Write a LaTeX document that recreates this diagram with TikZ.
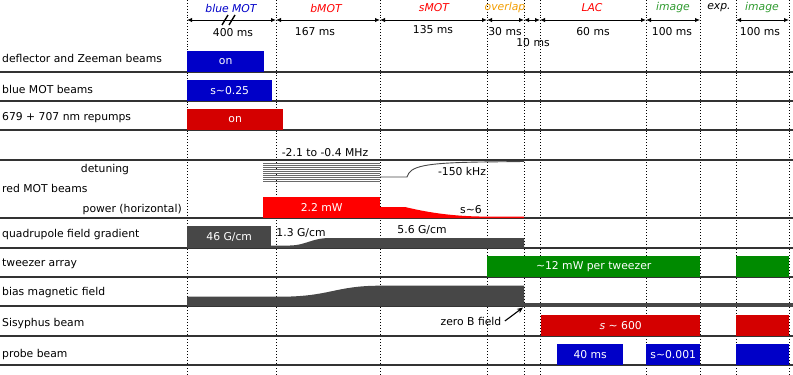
\documentclass[tikz,border=0pt]{standalone}
\usepackage{fontspec}
\setmainfont{DejaVu Sans}
\usepackage{tikz}
\usetikzlibrary{positioning, arrows.meta}
\definecolor{SeqBlue}{HTML}{0000C8}
\definecolor{SeqRed}{HTML}{D40000}
\definecolor{SeqBright}{HTML}{FF0000}
\definecolor{SeqGreen}{HTML}{008A00}
\definecolor{SeqGrey}{HTML}{474747}
\definecolor{SeqHatch}{HTML}{6A6A6A}
\definecolor{SeqOrange}{HTML}{F29D00}
\definecolor{SeqLine}{HTML}{333333}
\definecolor{SeqPhaseGreen}{HTML}{2E9A2E}

\begin{document}
\begin{tikzpicture}[x=1pt, y=-1pt, every node/.style={font=\fontsize{10.8}{12}\selectfont},
  bar/.style={anchor=south west, inner sep=0pt, minimum height=21pt, text=white},
  rowlabel/.style={anchor=west, inner sep=0pt},
  phase/.style={font=\fontsize{10.8}{12}\selectfont\itshape, inner sep=0pt},
  span/.style={{Latex[length=5pt,width=4.5pt]}-{Latex[length=5pt,width=4.5pt]}, line width=1pt},
  tick/.style={black, dotted, line width=0.9pt},
  rowline/.style={SeqLine, line width=1.3pt}]
  \useasboundingbox (0,0) rectangle (793,375);

  % time marks and row separators
  \foreach \x in {187,276,380,487,524,540,646,700,736,789}
    \draw[tick] (\x,0) -- (\x,375);
  \foreach \y in {72,101,130,160,218,248,277,306,336,365}
    \draw[rowline] (0,\y) -- (793,\y);

  % header
  \coordinate (t0) at (187,20);
  \coordinate (t1) at (276,20);
  \coordinate (t2) at (380,20);
  \coordinate (t3) at (487,20);
  \coordinate (t4) at (524,20);
  \coordinate (t5) at (540,20);
  \coordinate (t6) at (646,20);
  \coordinate (t7) at (700,20);
  \coordinate (t8) at (736,20);
  \coordinate (t9) at (789,20);
  \draw[span] (t0) -- (t1);
  \draw[span] (t1) -- (t2);
  \draw[span] (t2) -- (t3);
  \draw[span] (t3) -- (t4);
  \draw[span] (t4) -- (t5);
  \draw[span] (t5) -- (t6);
  \draw[span] (t6) -- (t7);
  \draw[span] (t8) -- (t9);
  \draw[line width=1.4pt] (222,25) -- (228,15);
  \draw[line width=1.4pt] (229,25) -- (235,15);

  \node[phase, text=SeqBlue] (pblue) at (231,8) {blue MOT};
  \node[phase, text=SeqBright] (pbmot) at (326,8) {bMOT};
  \node[phase, text=SeqBright] (psmot) at (434,8) {sMOT};
  \node[phase, text=SeqOrange] (poverlap) at (505,8) {overlap};
  \node[phase, text=SeqBright] (plac) at (592,8) {LAC};
  \node[phase, text=SeqPhaseGreen] (pimage) at (673,8) {image};
  \node[phase] (pexp) at (719,8) {exp.};
  \node[phase, text=SeqPhaseGreen] (pimagetwo) at (762,8) {image};

  \node (d400) at (233,33) {400 ms};
  \node (d167) at (315,32) {167 ms};
  \node (d135) at (433,30) {135 ms};
  \node (d30) at (505,32) {30 ms};
  \node (d10) at (533,43) {10 ms};
  \node (d60) at (593,32) {60 ms};
  \node (d100) at (672,32) {100 ms};
  \node (d100b) at (760,32) {100 ms};

  % row labels
  \node[rowlabel] (ldefl) at (2,58) {deflector and Zeeman beams};
  \node[rowlabel] (lbmot) at (2,89) {blue MOT beams};
  \node[rowlabel] (lrep) at (2,118) {679 + 707 nm repumps};
  \node[inner sep=0pt] (ldet) at (105,170) {detuning};
  \node[rowlabel] (lred) at (2,188) {red MOT beams};
  \node[anchor=east, inner sep=0pt] (lpow) at (182,210) {power (horizontal)};
  \node[rowlabel] (lquad) at (2,235) {quadrupole field gradient};
  \node[rowlabel] (ltw) at (2,264) {tweezer array};
  \node[rowlabel] (lbias) at (2,293) {bias magnetic field};
  \node[rowlabel] (lsis) at (2,324) {Sisyphus beam};
  \node[rowlabel] (lprobe) at (2,355) {probe beam};

  % blue MOT stage
  \node[bar, fill=SeqBlue, minimum width=77pt] (bdefl) at (187,72) {on};
  \node[bar, fill=SeqBlue, minimum width=85pt] (bbmot) at (187,101) {s\textasciitilde0.25};
  \node[bar, fill=SeqRed, minimum width=96pt] (brep) at (187,130) {on};

  % red MOT detuning
  \foreach \y in {163,165,...,181}
    \draw[SeqHatch, line width=0.8pt] (263,\y) -- (380,\y);
  \draw[SeqGrey, line width=0.9pt] (380,177) -- (407,177)
    .. controls (410,166) and (425,163) .. (480,162) -- (524,161.5);
  \node (ddet) at (325,153) {-2.1 to -0.4 MHz};
  \node (dkhz) at (462,171) {-150 kHz};

  % red MOT power
  \node[bar, fill=SeqBright, minimum width=117pt] (bpow) at (263,218) {2.2 mW};
  \fill[SeqBright] (380,218) -- (380,207) -- (405,207)
    .. controls (430,213) and (455,216.5) .. (487,216.6) -- (524,216.6) -- (524,218) -- cycle;
  \node (dsat) at (471,210) {s\textasciitilde6};

  % quadrupole gradient
  \node[bar, fill=SeqGrey, minimum width=84pt, minimum height=22pt] (bquad) at (187,248) {46 G/cm};
  \fill[SeqGrey] (271,248) -- (271,245.5) -- (290,245.5)
    .. controls (305,245.5) and (312,238) .. (330,238) -- (524,238) -- (524,248) -- cycle;
  \node (dlow) at (301,233) {1.3 G/cm};
  \node (dhigh) at (422,230) {5.6 G/cm};

  % tweezers
  \node[bar, fill=SeqGreen, minimum width=213pt] (btw) at (487,277) {\textasciitilde12 mW per tweezer};
  \node[bar, fill=SeqGreen, minimum width=53pt] (btwimg) at (736,277) {};

  % bias field
  \fill[SeqGrey] (187,306) -- (187,296.7) -- (280,296.7)
    .. controls (330,296.7) and (335,285.7) .. (380,285.7) -- (524,285.7) -- (524,306) -- cycle;
  \fill[SeqGrey] (524,303) rectangle (793,306.5);
  \node (dzero) at (471,321) {zero B field};
  \coordinate (zerotip) at (523,307.5);
  \draw[-{Stealth[length=6pt,width=5pt]}, line width=1.1pt] (dzero.east) -- (zerotip);

  % Sisyphus and probe
  \node[bar, fill=SeqRed, minimum width=159pt] (bsis) at (541,336) {\textit{s} \textasciitilde{} 600};
  \node[bar, fill=SeqRed, minimum width=53pt] (bsisimg) at (736,336) {};
  \node[bar, fill=SeqBlue, minimum width=66pt] (bprobe) at (557,365) {40 ms};
  \node[bar, fill=SeqBlue, minimum width=54pt] (bprobesat) at (646,365) {s\textasciitilde0.001};
  \node[bar, fill=SeqBlue, minimum width=53pt] (bprobeimg) at (736,365) {};
\end{tikzpicture}
\end{document}
